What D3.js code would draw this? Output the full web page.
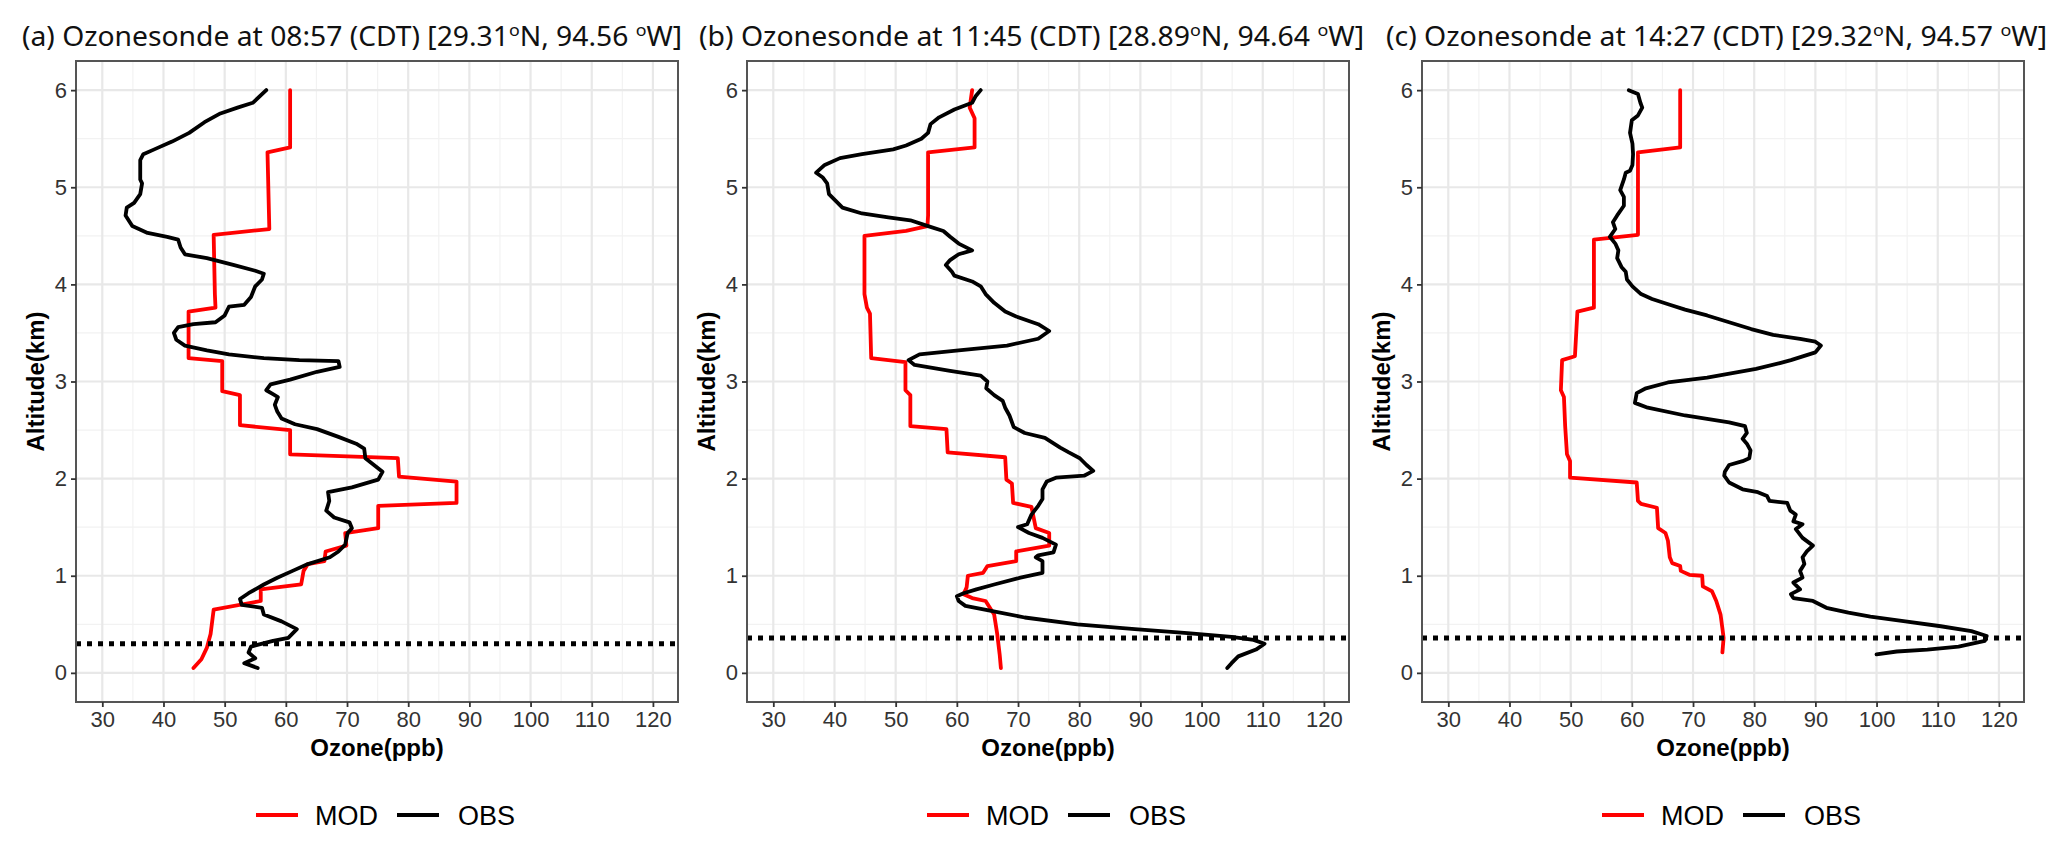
<!DOCTYPE html>
<html><head><meta charset="utf-8">
<script src="https://cdn.jsdelivr.net/npm/d3@7"></script>
<style>body{margin:0;background:#fff} svg{display:block}</style>
</head><body>
<svg id="chart" width="2067" height="847"></svg>
<script>
// ---------- data ----------
const panelLabels = ["(a)", "(b)", "(c)"];
const launchTimes = ["08:57", "11:45", "14:27"];
const latitudes = ["29.31", "28.89", "29.32"];
const longitudes = ["94.56", "94.64", "94.57"];
const ozoneTicks = [30, 40, 50, 60, 70, 80, 90, 100, 110, 120];
const altTicks = [0, 1, 2, 3, 4, 5, 6];
const pblHeights = [0.30, 0.36, 0.36];
const seriesNames = ["MOD", "OBS"];
const seriesColors = ["#ff0000", "#000000"];

// [ozone ppb, altitude km]
const modA = [[60.7,6.0],[60.7,5.41],[57.0,5.36],[57.3,4.57],[48.2,4.51],[48.4,3.9],[48.5,3.76],[44.1,3.72],[44.1,3.24],[49.6,3.21],[49.6,2.9],[52.5,2.86],[52.5,2.55],[60.7,2.5],[60.7,2.25],[78.3,2.21],[78.5,2.02],[87.9,1.97],[87.9,1.75],[75.1,1.72],[75.1,1.49],[69.7,1.44],[69.9,1.31],[66.5,1.25],[66.3,1.15],[63.6,1.12],[62.9,1.05],[62.5,0.91],[55.9,0.86],[55.9,0.74],[48.2,0.65],[47.7,0.4],[47.1,0.26],[46.2,0.14],[44.9,0.05]];
const obsA = [[56.8,6.0],[54.6,5.87],[52.1,5.82],[49.3,5.76],[46.7,5.67],[44.2,5.56],[41.4,5.47],[38.5,5.39],[36.7,5.34],[36.2,5.28],[36.2,5.08],[36.5,5.04],[36.2,4.93],[35.2,4.84],[34.0,4.79],[33.8,4.71],[34.9,4.60],[37.4,4.53],[40.6,4.49],[42.4,4.46],[42.8,4.38],[43.5,4.31],[47.1,4.27],[51.4,4.2],[55.0,4.14],[56.4,4.11],[56.1,4.05],[55.0,3.98],[54.3,3.87],[53.2,3.79],[50.7,3.77],[50.0,3.68],[48.5,3.61],[44.9,3.59],[42.4,3.56],[41.7,3.5],[42.1,3.43],[43.5,3.37],[47.1,3.32],[50.7,3.28],[56.4,3.24],[62.2,3.22],[68.6,3.21],[68.8,3.15],[65.1,3.10],[60.7,3.02],[57.5,2.97],[56.8,2.91],[57.9,2.87],[58.7,2.84],[58.2,2.76],[58.6,2.69],[59.3,2.62],[61.5,2.56],[65.1,2.51],[68.6,2.43],[71.5,2.36],[72.8,2.31],[73.0,2.21],[74.4,2.14],[75.8,2.07],[75.1,1.99],[70.8,1.91],[66.9,1.86],[67.1,1.77],[66.6,1.67],[67.9,1.60],[70.4,1.55],[70.8,1.49],[70.1,1.44],[69.7,1.32],[68.6,1.25],[67.2,1.19],[63.6,1.12],[61.1,1.05],[58.6,0.98],[56.4,0.91],[53.9,0.82],[52.5,0.76],[52.8,0.70],[56.1,0.67],[56.4,0.60],[59.3,0.53],[61.8,0.45],[60.4,0.36],[57.9,0.33],[54.3,0.27],[53.9,0.21],[55.0,0.15],[53.2,0.10],[55.4,0.05]];

const modB = [[62.5,6.0],[62.1,5.82],[62.9,5.71],[62.9,5.41],[55.3,5.36],[55.3,4.71],[55.2,4.6],[51.7,4.55],[44.9,4.50],[44.9,3.90],[45.3,3.76],[45.8,3.70],[46.0,3.24],[51.6,3.20],[51.6,2.91],[52.4,2.86],[52.4,2.54],[58.3,2.51],[58.5,2.27],[67.9,2.22],[68.1,1.99],[69.0,1.95],[69.2,1.75],[72.2,1.71],[72.9,1.49],[75.1,1.44],[75.1,1.31],[69.7,1.25],[69.7,1.15],[65.0,1.10],[64.3,1.03],[61.8,1.0],[61.6,0.88],[61.1,0.81],[62.5,0.77],[64.7,0.74],[66.1,0.60],[66.6,0.40],[67.0,0.19],[67.2,0.05]];
const obsB = [[63.9,6.0],[63.1,5.94],[62.5,5.87],[59.6,5.80],[57.1,5.72],[55.7,5.65],[55.3,5.56],[54.2,5.50],[51.7,5.43],[49.6,5.39],[44.5,5.34],[40.9,5.30],[38.4,5.23],[37.0,5.15],[38.1,5.10],[38.8,5.04],[39.1,4.93],[40.2,4.86],[41.3,4.79],[44.5,4.73],[48.8,4.69],[52.4,4.66],[55.3,4.60],[57.8,4.55],[58.9,4.49],[60.3,4.42],[62.5,4.35],[60.3,4.31],[58.9,4.25],[58.2,4.20],[59.2,4.13],[59.6,4.09],[62.5,4.03],[63.9,3.98],[64.7,3.90],[66.1,3.81],[67.9,3.72],[69.7,3.67],[73.3,3.59],[75.1,3.52],[73.3,3.44],[68.2,3.37],[60.3,3.32],[53.9,3.28],[52.1,3.22],[53.1,3.17],[58.9,3.11],[63.9,3.06],[65.0,3.00],[64.8,2.93],[66.1,2.86],[67.5,2.80],[67.9,2.73],[68.6,2.65],[69.3,2.53],[71.1,2.47],[74.4,2.42],[76.9,2.32],[78.3,2.27],[80.1,2.21],[81.2,2.14],[82.3,2.08],[80.8,2.03],[76.2,2.01],[74.7,1.97],[74.0,1.89],[74.0,1.79],[73.3,1.72],[72.2,1.63],[71.5,1.53],[70.0,1.50],[71.8,1.44],[74.0,1.39],[76.2,1.32],[75.8,1.24],[73.3,1.21],[72.9,1.19],[74.0,1.15],[74.0,1.03],[70.4,0.98],[66.1,0.91],[63.2,0.86],[61.1,0.82],[60.0,0.79],[60.3,0.74],[61.4,0.69],[65.4,0.64],[71.1,0.57],[79.7,0.50],[89.1,0.45],[97.7,0.41],[104.9,0.37],[108.5,0.34],[110.3,0.30],[108.9,0.24],[106.0,0.17],[104.9,0.10],[104.2,0.05]];

const modC = [[67.9,6.0],[67.9,5.41],[61.0,5.36],[61.0,4.51],[53.8,4.46],[53.8,3.76],[51.1,3.72],[50.7,3.26],[48.6,3.22],[48.4,2.91],[48.9,2.84],[49.1,2.54],[49.4,2.25],[49.9,2.18],[49.9,2.01],[60.8,1.96],[61.0,1.77],[61.5,1.74],[64.1,1.70],[64.3,1.49],[65.5,1.44],[65.9,1.36],[66.2,1.19],[66.6,1.13],[67.9,1.10],[68.0,1.05],[69.4,1.01],[71.5,1.00],[71.6,0.89],[73.1,0.84],[73.8,0.74],[74.5,0.60],[74.8,0.46],[75.0,0.36],[74.8,0.21]];
const obsC = [[59.5,6.0],[61.0,5.96],[61.4,5.87],[61.7,5.82],[61.0,5.74],[60.0,5.69],[59.7,5.56],[60.1,5.45],[60.2,5.34],[60.1,5.23],[59.7,5.17],[59.0,5.15],[58.7,5.08],[58.1,4.97],[58.7,4.90],[58.7,4.81],[57.6,4.71],[56.9,4.64],[57.3,4.57],[56.4,4.49],[57.3,4.42],[57.8,4.35],[57.6,4.27],[58.3,4.18],[59.0,4.13],[59.2,4.05],[60.1,3.98],[61.5,3.90],[63.3,3.85],[66.2,3.79],[68.7,3.74],[72.3,3.68],[75.9,3.61],[79.5,3.54],[83.1,3.48],[87.5,3.44],[90.0,3.41],[90.9,3.37],[90.0,3.30],[86.0,3.22],[84.2,3.19],[80.3,3.13],[72.3,3.04],[65.9,2.99],[62.3,2.93],[60.8,2.88],[60.5,2.78],[62.6,2.73],[68.7,2.65],[75.9,2.58],[78.5,2.54],[78.8,2.47],[78.1,2.41],[78.8,2.36],[79.4,2.29],[79.2,2.21],[78.1,2.18],[75.9,2.14],[75.2,2.07],[75.1,2.03],[75.9,1.96],[78.1,1.89],[80.6,1.86],[82.1,1.82],[82.5,1.77],[85.4,1.75],[85.9,1.67],[86.8,1.63],[86.4,1.56],[87.9,1.53],[86.8,1.48],[87.9,1.39],[89.6,1.31],[88.6,1.25],[87.9,1.19],[88.2,1.12],[87.5,1.05],[87.9,0.98],[86.4,0.93],[87.5,0.86],[86.0,0.81],[86.4,0.77],[89.6,0.74],[91.8,0.67],[95.4,0.62],[99.0,0.58],[104.7,0.53],[110.5,0.48],[115.5,0.43],[118.0,0.38],[117.7,0.33],[113.4,0.27],[108.3,0.24],[103.3,0.22],[100.0,0.19]];

const modSeries = [modA, modB, modC];
const obsSeries = [obsA, obsB, obsC];

// ---------- layout ----------
const panelLefts = [76, 747, 1422];
const titleStarts = [22, 699, 1386];
const titleLengths = [660, 665, 661];
const panelTop = 61, panelW = 602, panelH = 641;

const svg = d3.select("#chart");
const x = d3.scaleLinear().domain([25.7, 124.1]).range([0, panelW]);
const y = d3.scaleLinear().domain([-0.3, 6.3]).range([panelH, 0]);
const line = d3.line().x(d => x(d[0])).y(d => y(d[1]));

const minorX = d3.range(35, 120, 10);
const minorY = d3.range(0.5, 6, 1);
const sans = "Liberation Sans, Arial, sans-serif";

panelLabels.forEach((lab, i) => {
  const g = svg.append("g").attr("transform", `translate(${panelLefts[i]},${panelTop})`);

  // grid
  g.selectAll(".mnx").data(minorX).join("line")
    .attr("x1", d => x(d)).attr("x2", d => x(d)).attr("y1", 0).attr("y2", panelH)
    .attr("stroke", "#f2f2f2").attr("stroke-width", 1.2);
  g.selectAll(".mny").data(minorY).join("line")
    .attr("y1", d => y(d)).attr("y2", d => y(d)).attr("x1", 0).attr("x2", panelW)
    .attr("stroke", "#f2f2f2").attr("stroke-width", 1.2);
  g.selectAll(".mjx").data(ozoneTicks).join("line")
    .attr("x1", d => x(d)).attr("x2", d => x(d)).attr("y1", 0).attr("y2", panelH)
    .attr("stroke", "#e8e8e8").attr("stroke-width", 2.2);
  g.selectAll(".mjy").data(altTicks).join("line")
    .attr("y1", d => y(d)).attr("y2", d => y(d)).attr("x1", 0).attr("x2", panelW)
    .attr("stroke", "#e8e8e8").attr("stroke-width", 2.2);

  // series
  g.append("path").datum(modSeries[i]).attr("d", line)
    .attr("fill", "none").attr("stroke", seriesColors[0]).attr("stroke-width", 3.8)
    .attr("stroke-linejoin", "round").attr("stroke-linecap", "round");
  g.append("path").datum(obsSeries[i]).attr("d", line)
    .attr("fill", "none").attr("stroke", seriesColors[1]).attr("stroke-width", 3.8)
    .attr("stroke-linejoin", "round").attr("stroke-linecap", "round");

  // PBL dotted line
  g.append("line").attr("x1", 0).attr("x2", panelW)
    .attr("y1", y(pblHeights[i])).attr("y2", y(pblHeights[i]))
    .attr("stroke", "#000").attr("stroke-width", 5).attr("stroke-dasharray", "5,6");

  // border
  g.append("rect").attr("x", 0).attr("y", 0).attr("width", panelW).attr("height", panelH)
    .attr("fill", "none").attr("stroke", "#555").attr("stroke-width", 2);

  // axes
  const ax = g.append("g").attr("transform", `translate(0,${panelH})`)
    .call(d3.axisBottom(x).tickValues(ozoneTicks).tickFormat(d3.format("d")).tickSize(5).tickPadding(4));
  const ay = g.append("g")
    .call(d3.axisLeft(y).tickValues(altTicks).tickFormat(d3.format("d")).tickSize(5).tickPadding(4));
  [ax, ay].forEach(a => {
    a.select(".domain").remove();
    a.selectAll(".tick line").attr("stroke", "#333").attr("stroke-width", 1.8);
    a.selectAll(".tick text").attr("fill", "#333")
      .style("font-family", sans).style("font-size", "22px");
  });

  // axis titles
  g.append("text").attr("x", panelW / 2).attr("y", 695).attr("text-anchor", "middle")
    .style("font-family", sans).style("font-size", "24px")
    .style("font-weight", "bold").attr("fill", "#000").text("Ozone(ppb)");
  g.append("text").attr("transform", `translate(-32,${panelH / 2}) rotate(-90)`)
    .attr("text-anchor", "middle")
    .style("font-family", sans).style("font-size", "24px")
    .style("font-weight", "bold").attr("fill", "#000").text("Altitude(km)");

  // title
  const t = svg.append("text").attr("x", titleStarts[i]).attr("y", 46)
    .attr("textLength", titleLengths[i]).attr("lengthAdjust", "spacingAndGlyphs")
    .style("font-family", "Noto Sans, Open Sans, sans-serif").style("font-size", "27px")
    .attr("fill", "#111");
  t.append("tspan").text(`${lab} Ozonesonde at ${launchTimes[i]} (CDT) [${latitudes[i]}`);
  t.append("tspan").attr("dy", -10).style("font-size", "17px").text("o");
  t.append("tspan").attr("dy", 10).text(`N, ${longitudes[i]} `);
  t.append("tspan").attr("dy", -10).style("font-size", "17px").text("o");
  t.append("tspan").attr("dy", 10).text("W]");

  // legend
  const lg = svg.append("g").attr("transform", `translate(${panelLefts[i]},815)`);
  const legX = [[180, 239], [321, 382]];
  seriesNames.forEach((nm, k) => {
    lg.append("line").attr("x1", legX[k][0]).attr("x2", legX[k][0] + 42)
      .attr("y1", 0).attr("y2", 0).attr("stroke", seriesColors[k]).attr("stroke-width", 4);
    lg.append("text").attr("x", legX[k][1]).attr("y", 10)
      .style("font-family", sans).style("font-size", "27px")
      .attr("fill", "#000").text(nm);
  });
});
</script>
</body></html>
